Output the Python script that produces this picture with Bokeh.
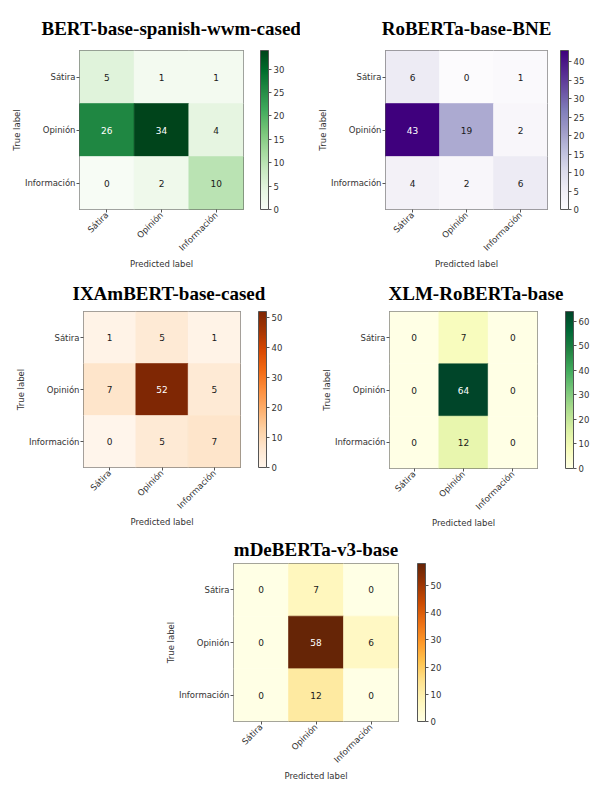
import numpy as np
from bokeh.plotting import figure
from bokeh.models import ColumnDataSource, LinearColorMapper, ColorBar, FixedTicker, FactorRange
from bokeh.layouts import column, row, Spacer
from bokeh.embed import file_html
from bokeh.resources import INLINE
from bokeh.core.properties import value
from bokeh.palettes import Greens9, Purples9, Oranges9, YlGn9, YlOrBr9

# ---------------- data ----------------
classes = ["Sátira", "Opinión", "Información"]

bert_title = "BERT-base-spanish-wwm-cased"
bert_cm = [[5, 1, 1], [26, 34, 4], [0, 2, 10]]
bert_ticks = [0, 5, 10, 15, 20, 25, 30]

roberta_title = "RoBERTa-base-BNE"
roberta_cm = [[6, 0, 1], [43, 19, 2], [4, 2, 6]]
roberta_ticks = [0, 5, 10, 15, 20, 25, 30, 35, 40]

ixam_title = "IXAmBERT-base-cased"
ixam_cm = [[1, 5, 1], [7, 52, 5], [0, 5, 7]]
ixam_ticks = [0, 10, 20, 30, 40, 50]

xlm_title = "XLM-RoBERTa-base"
xlm_cm = [[0, 7, 0], [0, 64, 0], [0, 12, 0]]
xlm_ticks = [0, 10, 20, 30, 40, 50, 60]

mdeb_title = "mDeBERTa-v3-base"
mdeb_cm = [[0, 7, 0], [0, 58, 6], [0, 12, 0]]
mdeb_ticks = [0, 10, 20, 30, 40, 50]

LABEL_FONT = "DejaVu Sans"
INK = "#333333"


def interp(pal, n=256):
    pal = list(pal)[::-1]  # light -> dark
    rgb = np.array([[int(c[i:i + 2], 16) for i in (1, 3, 5)] for c in pal], float)
    t = np.linspace(0, 1, len(pal))
    out = []
    for x in np.linspace(0, 1, n):
        out.append("#%02x%02x%02x" % tuple(int(round(np.interp(x, t, rgb[:, k]))) for k in range(3)))
    return out


def panel(title, cm, pal, ticks, fw, fh, bl, bt, br, bb, cb_gap, standoff,
          title_align="center", title_offset=0):
    vals = np.array(cm)
    thresh = (vals.max() + vals.min()) / 2.0
    xs, ys, vs, cols = [], [], [], []
    for i, t in enumerate(classes):
        for j, pc in enumerate(classes):
            xs.append(pc)
            ys.append(t)
            vs.append(int(vals[i, j]))
            cols.append("white" if vals[i, j] > thresh else "#1a1a1a")
    src = ColumnDataSource(dict(x=xs, y=ys, v=vs, s=[str(v) for v in vs], c=cols))
    mapper = LinearColorMapper(palette=pal, low=float(vals.min()), high=float(vals.max()))

    p = figure(x_range=FactorRange(*classes), y_range=FactorRange(*classes[::-1]),
               frame_width=fw, frame_height=fh,
               min_border_left=bl, min_border_top=bt, min_border_right=br, min_border_bottom=bb,
               output_backend="svg", toolbar_location=None, title=title)
    p.rect("x", "y", 1, 1, source=src,
           fill_color={"field": "v", "transform": mapper},
           line_color={"field": "v", "transform": mapper}, line_width=0.6)
    p.text("x", "y", text="s", source=src, text_color="c", text_align="center",
           text_baseline="middle", text_font=value(LABEL_FONT), text_font_size="9px")

    p.grid.visible = False
    p.outline_line_color = "#555555"
    p.outline_line_width = 1
    p.background_fill_color = "white"
    p.border_fill_color = "white"

    p.title.text_font = "Liberation Serif"
    p.title.text_font_size = "19px"
    p.title.text_font_style = "bold"
    p.title.text_color = "black"
    p.title.align = title_align
    p.title.offset = title_offset
    p.title.standoff = standoff

    p.xaxis.axis_label = "Predicted label"
    p.yaxis.axis_label = "True label"
    p.xaxis.major_label_orientation = np.pi / 4
    for ax in (p.xaxis[0], p.yaxis[0]):
        ax.axis_line_color = None
        ax.major_tick_in = 0
        ax.major_tick_out = 3
        ax.major_tick_line_color = "#555555"
        ax.minor_tick_line_color = None
        ax.major_label_text_font = LABEL_FONT
        ax.major_label_text_font_size = "8.5px"
        ax.major_label_text_color = INK
        ax.major_label_standoff = 1
        ax.axis_label_text_font = LABEL_FONT
        ax.axis_label_text_font_size = "8.5px"
        ax.axis_label_text_font_style = "normal"
        ax.axis_label_text_color = INK
        ax.axis_label_standoff = 0

    cb = ColorBar(color_mapper=mapper, ticker=FixedTicker(ticks=ticks),
                  width=8, height=fh, location=(cb_gap, 0), margin=0, padding=0,
                  major_tick_in=0, major_tick_out=3, major_tick_line_color="#555555",
                  bar_line_color="#555555", border_line_color=None,
                  major_label_text_font=LABEL_FONT, major_label_text_font_size="8.5px",
                  major_label_text_color=INK, label_standoff=2)
    p.add_layout(cb, "right")
    return p


p1 = panel(bert_title, bert_cm, interp(Greens9), bert_ticks,
           fw=164, fh=159, bl=79, bt=50, br=57, bb=62, cb_gap=17, standoff=23,
           title_align="left", title_offset=-38)
p2 = panel(roberta_title, roberta_cm, interp(Purples9), roberta_ticks,
           fw=162, fh=159, bl=85, bt=50, br=43, bb=62, cb_gap=13, standoff=23)
p3 = panel(ixam_title, ixam_cm, interp(Oranges9), ixam_ticks,
           fw=157, fh=156, bl=83, bt=39, br=60, bb=62, cb_gap=18, standoff=15,
           title_align="left", title_offset=-11)
p4 = panel(xlm_title, xlm_cm, interp(YlGn9), xlm_ticks,
           fw=148, fh=157, bl=89, bt=39, br=53, bb=62, cb_gap=28, standoff=15,
           title_align="left", title_offset=-1)
p5 = panel(mdeb_title, mdeb_cm, interp(YlOrBr9), mdeb_ticks,
           fw=165, fh=158, bl=75, bt=32, br=50, bb=62, cb_gap=19, standoff=8)

layout = column(row(p1, p2), row(p3, p4), row(Spacer(width=158, height=10), p5))

open("out.html", "w").write(file_html(layout, INLINE))
